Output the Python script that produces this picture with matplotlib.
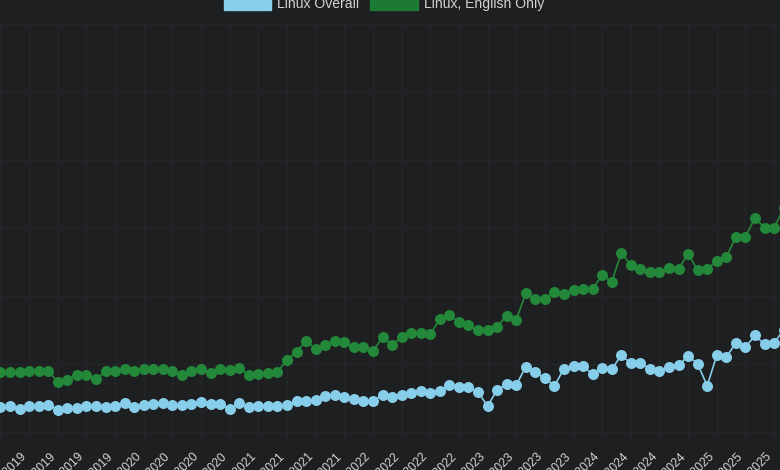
import pandas as pd
import matplotlib.pyplot as plt
from matplotlib.patches import Patch

plt.rcParams['font.family'] = ['Liberation Sans', 'DejaVu Sans']

#Data: monthly Linux share (%), Oct 2018 - Aug 2025
linux_overall = [1.37, 1.38, 1.34, 1.38, 1.38, 1.40, 1.33, 1.35, 1.36, 1.38,
                 1.38, 1.37, 1.38, 1.42, 1.37, 1.40, 1.41, 1.42, 1.40, 1.40,
                 1.41, 1.44, 1.41, 1.41, 1.34, 1.42, 1.37, 1.38, 1.38, 1.38,
                 1.39, 1.45, 1.46, 1.47, 1.53, 1.54, 1.52, 1.49, 1.46, 1.46,
                 1.54, 1.52, 1.55, 1.58, 1.60, 1.58, 1.61, 1.69, 1.66, 1.66,
                 1.59, 1.38, 1.62, 1.70, 1.69, 1.96, 1.88, 1.79, 1.68, 1.93,
                 1.97, 1.97, 1.85, 1.94, 1.92, 2.13, 2.01, 2.01, 1.93, 1.90,
                 1.96, 1.98, 2.12, 2.00, 1.68, 2.13, 2.10, 2.31, 2.25, 2.42,
                 2.29, 2.31, 2.50]
linux_english = [1.88, 1.88, 1.88, 1.90, 1.89, 1.90, 1.73, 1.77, 1.84, 1.84,
                 1.78, 1.89, 1.89, 1.93, 1.90, 1.93, 1.93, 1.93, 1.90, 1.84,
                 1.90, 1.93, 1.87, 1.93, 1.91, 1.94, 1.84, 1.86, 1.87, 1.88,
                 2.06, 2.18, 2.34, 2.22, 2.28, 2.34, 2.32, 2.25, 2.25, 2.19,
                 2.39, 2.28, 2.39, 2.46, 2.46, 2.44, 2.66, 2.72, 2.62, 2.57,
                 2.50, 2.50, 2.55, 2.71, 2.65, 3.04, 2.96, 2.96, 3.06, 3.03,
                 3.09, 3.10, 3.10, 3.31, 3.21, 3.63, 3.46, 3.40, 3.35, 3.35,
                 3.41, 3.40, 3.62, 3.38, 3.40, 3.51, 3.57, 3.87, 3.87, 4.15,
                 4.00, 4.00, 4.29]
months = pd.date_range('2018-10-01', periods=len(linux_overall), freq='MS').strftime('%b %Y').tolist()

blue = '#87ceeb'
green = '#23883a'
bg = '#1e1f21'
text_col = '#d2d2d2'

fig = plt.figure(figsize=(7.8, 4.7), dpi=100, facecolor=bg)
ax = fig.add_axes([0, 30 / 470, 1, 420 / 470], facecolor=bg)

x = list(range(len(months)))
ax.plot(x, linux_overall, color=blue, lw=1.2, marker='o', ms=6.9, label='Linux Overall')
ax.plot(x, linux_english, color=green, lw=1.2, marker='o', ms=6.9, label='Linux, English Only')

ax.set_xlim(-0.05, 81.62)
ax.set_ylim(60 / 68, 480 / 68)

ax.set_xticks(x[::3])
ax.set_xticklabels(months[::3], rotation=45, ha='right')
ax.set_yticks(range(1, 8))
ax.tick_params(axis='y', left=False, labelleft=False)
ax.tick_params(axis='x', length=0, pad=8, colors=text_col, labelsize=8.8)
ax.grid(color='#242528', lw=1)
for s in ax.spines.values():
    s.set_visible(False)

#Legend (top, partly cut off like the original screenshot)
handles = [Patch(color=blue, label='Linux Overall'),
           Patch(color='#1c7a33', label='Linux, English Only')]
fig.legend(handles=handles, loc='center', bbox_to_anchor=(384 / 780, 1 - 4 / 470), ncol=2,
           frameon=False, fontsize=10.08, labelcolor=text_col, handlelength=3.36,
           handleheight=1.0, handletextpad=0.43, columnspacing=0.79)

fig.savefig('out.png', dpi=100, facecolor=bg)
